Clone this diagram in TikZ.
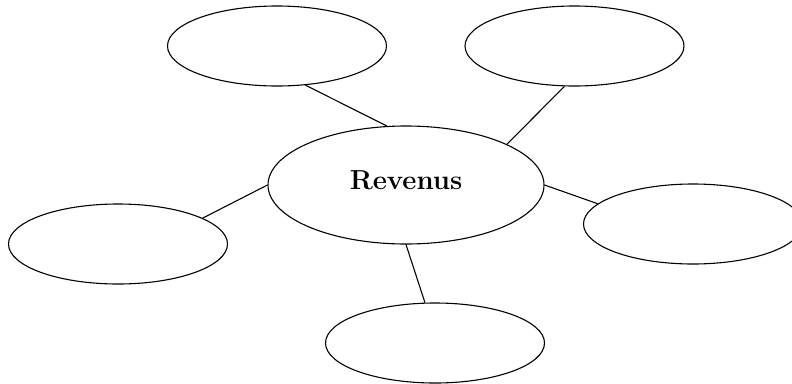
\documentclass[tikz,border=0pt]{standalone}
\usetikzlibrary{shapes.geometric}
\begin{document}
\begin{tikzpicture}[x=1pt,y=-1pt,line width=1.1pt,
  bulle/.style={draw,ellipse,inner sep=0pt,minimum width=219pt,minimum height=80pt}]
\useasboundingbox (0,0) rectangle (792,383);
\node[bulle,minimum width=276pt,minimum height=118pt,text depth=10pt,font=\bfseries\fontsize{27.5}{33}\selectfont] (rev) at (406,185) {Revenus};
\node[bulle] (hg) at (277,46) {};
\node[bulle] (hd) at (574.5,46) {};
\node[bulle] (g) at (118,244) {};
\node[bulle] (d) at (693,224) {};
\node[bulle] (b) at (435,343) {};
% traits vers le centre
\draw (hg.-54)--(rev.108);
\draw (hd.-104)--(rev.22);
\draw (g.17)--(rev.west);
\draw (d.168)--(rev.east);
\draw (b.104)--(rev.south);
\end{tikzpicture}
\end{document}
